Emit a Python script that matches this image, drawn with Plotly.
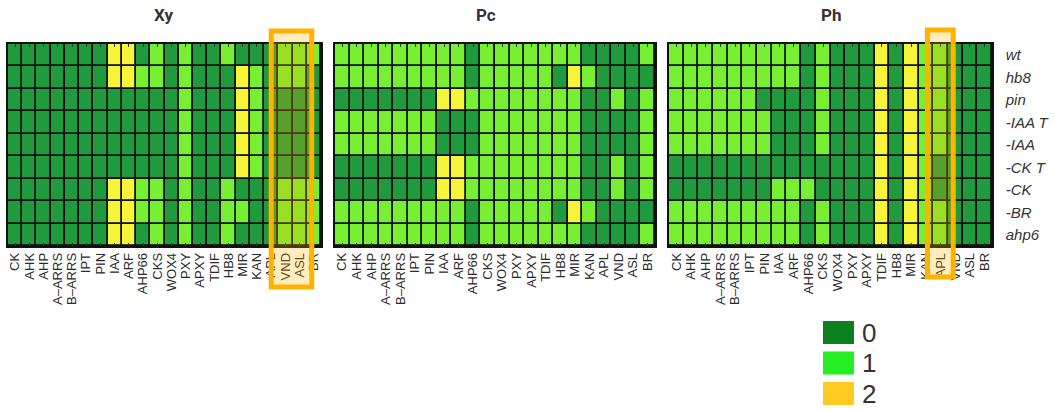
import plotly.graph_objects as go

genes = ["CK", "AHK", "AHP", "A–ARRS", "B–ARRS", "IPT", "PIN", "IAA", "ARF", "AHP66", "CKS",
         "WOX4", "PXY", "APXY", "TDIF", "HB8", "MIR", "KAN", "APL", "VND", "ASL", "BR"]
conditions = ["wt", "hb8", "pin", "-IAA T", "-IAA", "-CK T", "-CK", "-BR", "ahp6"]
tissues = ["Xy", "Pc", "Ph"]
legend_levels = ["0", "1", "2"]

xy = [
    [0,0,0,0,0,0,0,2,2,0,1,0,1,0,0,1,0,0,0,1,1,1],
    [0,0,0,0,0,0,0,2,2,1,1,0,1,0,0,0,2,1,0,1,1,0],
    [0,0,0,0,0,0,0,0,0,0,0,0,1,0,0,0,2,1,0,0,0,0],
    [0,0,0,0,0,0,0,0,0,0,0,0,1,0,0,0,2,1,0,0,0,0],
    [0,0,0,0,0,0,0,0,0,0,0,0,1,0,0,0,2,1,0,0,0,0],
    [0,0,0,0,0,0,0,0,0,0,0,0,1,0,0,0,2,1,0,0,0,0],
    [0,0,0,0,0,0,0,2,2,1,1,0,1,0,0,1,0,0,0,1,1,1],
    [0,0,0,0,0,0,0,2,2,1,1,0,1,0,0,1,1,0,0,1,1,1],
    [0,0,0,0,0,0,0,2,2,0,1,0,1,0,0,1,0,0,0,1,1,1],
]
pc = [
    [1,1,1,1,1,1,1,1,1,0,1,1,1,1,1,1,1,0,0,0,0,1],
    [1,1,1,1,1,1,1,1,1,0,1,1,1,1,1,0,2,1,0,0,0,0],
    [0,0,0,0,0,0,0,2,2,1,1,1,1,1,1,1,1,0,0,1,0,1],
    [1,1,1,1,1,1,1,0,0,0,1,1,1,1,1,1,1,0,0,0,0,1],
    [1,1,1,1,1,1,1,0,0,0,1,1,1,1,1,1,1,0,0,0,0,1],
    [0,0,0,0,0,0,0,2,2,1,1,1,1,1,1,1,1,0,0,1,0,1],
    [0,0,0,0,0,0,0,2,2,1,1,1,1,1,1,1,1,0,0,1,0,1],
    [1,1,1,1,1,1,1,1,1,0,1,1,1,1,1,0,2,1,0,0,0,0],
    [1,1,1,1,1,1,1,1,1,0,1,1,1,1,1,1,1,0,0,0,0,1],
]
ph = [
    [1,1,1,1,1,1,1,1,1,0,1,0,0,0,2,0,2,1,1,0,0,0],
    [1,1,1,1,1,1,1,1,1,0,1,0,0,0,2,0,2,1,1,0,0,0],
    [1,1,1,1,1,1,0,0,0,0,1,0,0,0,2,0,2,1,1,0,0,0],
    [1,1,1,1,1,1,1,0,0,0,1,0,0,0,2,0,2,1,1,0,0,0],
    [1,1,1,1,1,1,1,0,0,0,1,0,0,0,2,0,2,1,1,0,0,0],
    [0,0,0,0,0,0,0,0,0,0,0,0,0,0,2,0,2,1,0,0,0,0],
    [0,0,0,0,0,0,0,1,1,1,0,0,0,0,2,0,2,1,0,0,0,0],
    [1,1,1,1,1,1,1,1,1,0,1,0,0,0,2,0,2,1,1,0,0,0],
    [1,1,1,1,1,1,1,1,1,0,1,0,0,0,2,0,2,1,1,0,0,0],
]
matrices = [xy, pc, ph]

DARK, LIGHT, YELLOW = "#1f9a3c", "#77ef32", "#f7f53a"
cscale = [[0, DARK], [1/3, DARK], [1/3, LIGHT], [2/3, LIGHT], [2/3, YELLOW], [1, YELLOW]]
legend_colors = ["#0c801f", "#25ee25", "#ffcb22"]

W, H = 1055, 410
xdoms = [(8, 321), (335, 655), (669, 992)]
title_x = [164, 486, 831]
ytop, ybot = 44, 246
ydom = [1 - ybot / H, 1 - ytop / H]

fig = go.Figure()
for i, (name, z) in enumerate(zip(tissues, matrices)):
    sfx = "" if i == 0 else str(i + 1)
    fig.add_trace(go.Heatmap(
        z=z, x=genes, y=conditions, colorscale=cscale, zmin=0, zmax=2,
        showscale=False, xgap=1.8, ygap=1.8,
        xaxis="x" + sfx, yaxis="y" + sfx,
        hovertemplate="%{y} / %{x}: %{z}<extra>" + name + "</extra>",
    ))
    x0, x1 = xdoms[i]
    fig.layout["xaxis" + sfx] = dict(
        domain=[x0 / W, x1 / W], anchor="y" + sfx, tickangle=-90,
        tickmode="array", tickvals=genes, ticktext=genes,
        tickfont=dict(family="Liberation Sans, Arial", size=13, color="#2a2a2a"),
        ticks="inside", ticklen=3, tickcolor="#333", mirror="ticks",
        showline=True, linecolor="#111", linewidth=1.5, showgrid=False,
        automargin=False, fixedrange=True,
    )
    ycfg = dict(
        domain=ydom, anchor="x" + sfx, autorange="reversed", showgrid=False,
        showline=True, linecolor="#111", linewidth=1.5, mirror=True,
        automargin=False, fixedrange=True, ticks="",
        showticklabels=(i == 2),
    )
    if i == 2:
        ycfg.update(side="right", ticklabelstandoff=9,
                    tickmode="array", tickvals=conditions,
                    ticktext=["<i>" + c + "</i>" for c in conditions],
                    tickfont=dict(family="Liberation Sans, Arial", size=15, color="#333"))
    fig.layout["yaxis" + sfx] = ycfg
    fig.add_annotation(
        x=title_x[i] / W, y=1 - 15 / H, xref="paper", yref="paper",
        xanchor="center", yanchor="middle",
        text="<b>" + name + "</b>", showarrow=False,
        font=dict(family="Roboto, Liberation Sans", size=17, color="#333"),
    )

# highlight boxes
ORANGE = "#ffb300"
fig.add_shape(type="rect", xref="x", yref="paper", x0=18.0, x1=20.85,
              y0=1 - 287 / H, y1=1 - 31 / H, line=dict(color=ORANGE, width=5),
              fillcolor="rgba(255,180,0,0.25)", layer="above")
fig.add_shape(type="rect", xref="x3", yref="paper", x0=17.1, x1=18.86,
              y0=1 - 277 / H, y1=1 - 30 / H, line=dict(color=ORANGE, width=5),
              fillcolor="rgba(255,180,0,0.25)", layer="above")

# legend
for k, (lab, col) in enumerate(zip(legend_levels, legend_colors)):
    top = 321 + k * 30.5
    fig.add_shape(type="rect", xref="paper", yref="paper",
                  x0=823 / W, x1=854 / W, y0=1 - (top + 23) / H, y1=1 - top / H,
                  line=dict(width=0), fillcolor=col)
    fig.add_annotation(x=860 / W, y=1 - (top + 11.5) / H, xref="paper", yref="paper",
                       text=lab, showarrow=False, xanchor="left", yanchor="middle",
                       font=dict(family="Liberation Sans, Arial", size=26, color="#333"))

fig.update_layout(
    width=W, height=H, margin=dict(l=0, r=0, t=0, b=0),
    paper_bgcolor="white", plot_bgcolor="#111", showlegend=False,
)
fig.write_html("out.html", config={"displayModeBar": False},
               post_script="document.body.style.margin='0';document.body.style.overflow='hidden';")
